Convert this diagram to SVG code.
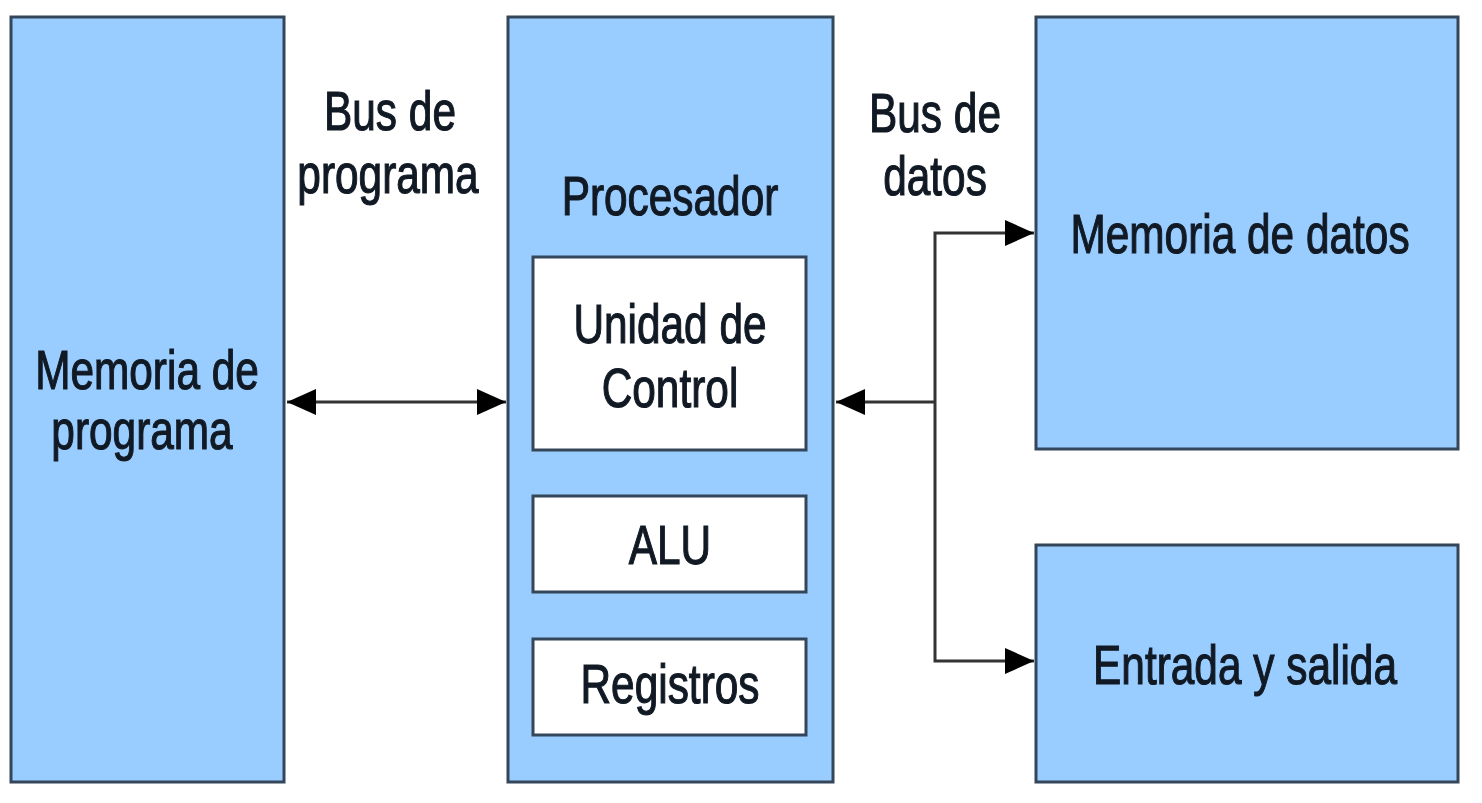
<svg xmlns="http://www.w3.org/2000/svg" width="1482" height="803" viewBox="0 0 1482 803">
<defs>
<style>
.blue{fill:#99ccff;stroke:#34465a;stroke-width:3}
.white{fill:#ffffff;stroke:#34465a;stroke-width:3}
.lbl{font-family:"Liberation Sans",Arial,sans-serif;font-size:42.4px;fill:#111a24;stroke:#111a24;stroke-width:0.9;text-anchor:middle}
.wire{fill:none;stroke:#333333;stroke-width:3}
</style>
<marker id="ah" markerUnits="userSpaceOnUse" markerWidth="30" markerHeight="30" viewBox="0 0 30 30" refX="29" refY="15" orient="auto-start-reverse">
<path d="M0,2 L29,15 L0,28 Z" fill="#000"/>
</marker>
</defs>
<rect width="1482" height="803" fill="#ffffff"/>
<g id="memoria-programa">
<rect class="blue" x="11" y="17" width="273" height="765"/>
<text class="lbl" transform="translate(147,389) scale(1,1.32)">Memoria de</text>
<text class="lbl" transform="translate(142,449) scale(1,1.32)">programa</text>
</g>
<g id="procesador">
<rect class="blue" x="508" y="17" width="325" height="765"/>
<text class="lbl" transform="translate(670,215) scale(1,1.32)">Procesador</text>
</g>
<g id="unidad-control">
<rect class="white" x="533" y="257" width="273" height="193"/>
<text class="lbl" transform="translate(670,343) scale(1,1.32)">Unidad de</text>
<text class="lbl" transform="translate(670,407) scale(1,1.32)">Control</text>
</g>
<g id="alu">
<rect class="white" x="533" y="496" width="273" height="96"/>
<text class="lbl" transform="translate(670,564) scale(1,1.32)">ALU</text>
</g>
<g id="registros">
<rect class="white" x="533" y="639" width="273" height="96"/>
<text class="lbl" transform="translate(670,703) scale(1,1.32)">Registros</text>
</g>
<g id="memoria-datos">
<rect class="blue" x="1036" y="17" width="422" height="432"/>
<text class="lbl" transform="translate(1240,253) scale(1,1.32)">Memoria de datos</text>
</g>
<g id="entrada-salida">
<rect class="blue" x="1036" y="545" width="422" height="237"/>
<text class="lbl" transform="translate(1245,684) scale(1,1.32)">Entrada y salida</text>
</g>
<g id="labels">
<text class="lbl" transform="translate(390,130) scale(1,1.32)">Bus de</text>
<text class="lbl" transform="translate(388,193) scale(1,1.32)">programa</text>
<text class="lbl" transform="translate(935,132) scale(1,1.32)">Bus de</text>
<text class="lbl" transform="translate(935,195) scale(1,1.32)">datos</text>
</g>
<g id="connectors">
<line class="wire" x1="287" y1="402" x2="506" y2="402" marker-start="url(#ah)" marker-end="url(#ah)"/>
<line class="wire" x1="935" y1="402" x2="836" y2="402" marker-end="url(#ah)"/>
<polyline class="wire" points="1034,233 935,233 935,661 1034,661" marker-start="url(#ah)" marker-end="url(#ah)"/>
</g>
</svg>
